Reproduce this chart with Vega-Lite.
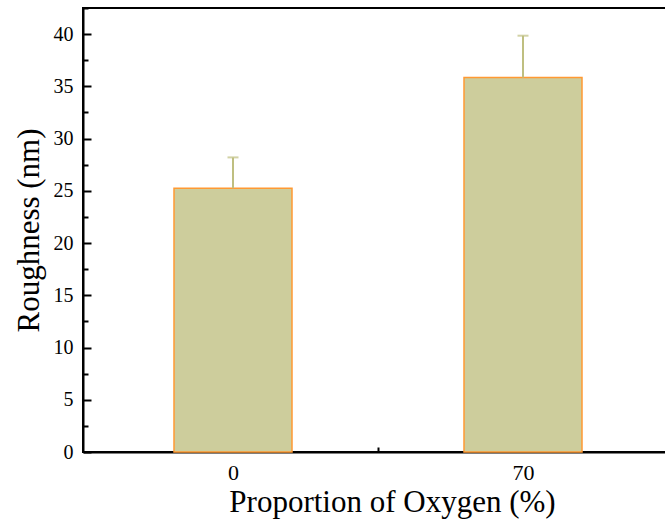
{
  "$schema": "https://vega.github.io/schema/vega-lite/v6.json",
  "autosize": "none",
  "padding": {"left": 83, "top": 8, "right": 0, "bottom": 74},
  "width": 590,
  "height": 444,
  "background": "white",
  "config": {
    "view": {"stroke": "black", "strokeWidth": 2},
    "font": "Liberation Serif",
    "axis": {"grid": false, "zindex": 1, "domainColor": "black", "domainWidth": 2, "tickColor": "black", "tickWidth": 2, "labelColor": "black", "titleColor": "black", "titleFontWeight": "normal"}
  },
  "data": {
    "values": [
      {"oxygen": 0, "roughness": 25.25, "upper": 28.2},
      {"oxygen": 70, "roughness": 35.85, "upper": 39.85}
    ]
  },
  "resolve": {"axis": {"x": "independent", "y": "independent"}},
  "layer": [
    {
      "mark": {"type": "bar", "width": 118, "fill": "#cdcd9c", "stroke": "#ff9933", "strokeWidth": 1.5},
      "encoding": {
        "x": {
          "field": "oxygen", "type": "quantitative",
          "scale": {"domain": [-35, 105], "nice": false, "zero": false},
          "axis": {"orient": "bottom", "values": [0, 70], "tickSize": -8, "labelFontSize": 22, "labelPadding": 18, "title": "Proportion of Oxygen (%)", "titleFontSize": 31, "titlePadding": 4, "titleX": 309, "titleAlign": "center"}
        },
        "y": {
          "field": "roughness", "type": "quantitative",
          "scale": {"domain": [0, 42.5], "nice": false},
          "axis": {"orient": "left", "values": [0, 5, 10, 15, 20, 25, 30, 35, 40], "tickSize": -8, "labelFontSize": 20, "labelPadding": 18, "title": "Roughness (nm)", "titleFontSize": 31, "titlePadding": 8}
        }
      }
    },
    {
      "mark": {"type": "rule", "color": "#bfbf80", "strokeWidth": 2},
      "encoding": {
        "x": {
          "field": "oxygen", "type": "quantitative",
          "axis": {"orient": "bottom", "values": [35], "tickSize": -5, "labels": false, "domain": false, "title": null}
        },
        "y": {
          "field": "roughness", "type": "quantitative",
          "axis": {"orient": "left", "values": [2.5, 7.5, 12.5, 17.5, 22.5, 27.5, 32.5, 37.5, 42.5], "tickSize": -5, "labels": false, "domain": false, "title": null}
        },
        "y2": {"field": "upper"}
      }
    },
    {
      "mark": {"type": "tick", "orient": "horizontal", "color": "#bfbf80", "size": 11, "thickness": 2},
      "encoding": {
        "x": {"field": "oxygen", "type": "quantitative", "axis": null},
        "y": {
          "field": "upper", "type": "quantitative",
          "axis": {"orient": "right", "values": [0, 5, 10, 15, 20, 25, 30, 35, 40], "tickSize": -8, "labels": false, "domain": false, "title": null}
        }
      }
    }
  ]
}
